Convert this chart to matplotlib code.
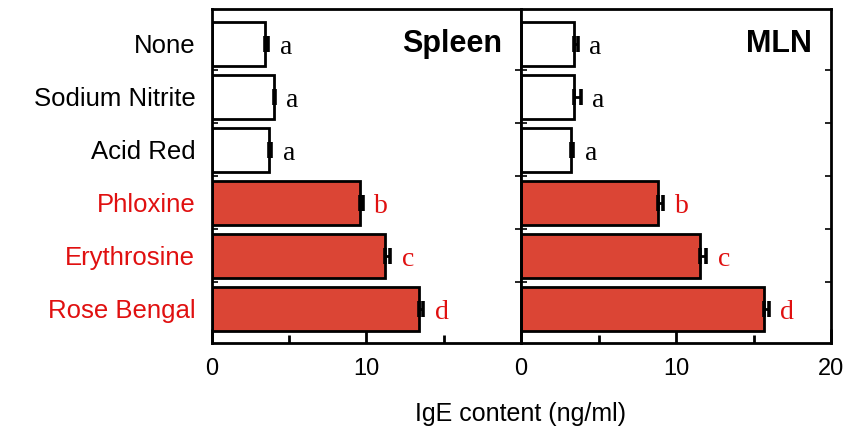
import numpy as np
import matplotlib.pyplot as plt

# data
treatments = ['None', 'Sodium Nitrite', 'Acid Red', 'Phloxine', 'Erythrosine', 'Rose Bengal']
label_colors = ['black', 'black', 'black', '#e01010', '#e01010', '#e01010']
bar_colors = ['white', 'white', 'white', '#db4535', '#db4535', '#db4535']

spleen_mean = [3.4, 4.0, 3.7, 9.55, 11.2, 13.4]
spleen_err = [0.25, 0.05, 0.15, 0.2, 0.33, 0.28]
mln_mean = [3.45, 3.45, 3.2, 8.85, 11.55, 15.65]
mln_err = [0.2, 0.4, 0.17, 0.33, 0.38, 0.32]
letters = ['a', 'a', 'a', 'b', 'c', 'd']

panels = [('Spleen', spleen_mean, spleen_err), ('MLN', mln_mean, mln_err)]

fig = plt.figure(figsize=(8.43, 4.33), dpi=100)
ax_left = fig.add_axes([0.2515, 0.2079, 0.3665, 0.7706])
ax_right = fig.add_axes([0.618, 0.2079, 0.3680, 0.7706])

y = np.arange(len(treatments))

for ax, (name, mean, err) in zip([ax_left, ax_right], panels):
    ax.barh(y, mean, height=0.83, color=bar_colors, edgecolor='black', linewidth=2.0, zorder=2)
    ax.errorbar(mean, y, xerr=[np.zeros(len(mean)), err], fmt='none', ecolor='black',
                elinewidth=2.0, capsize=6, capthick=2.6, zorder=3)
    for i in range(len(mean)):
        ax.text(mean[i] + err[i] + 0.75, y[i] + 0.08, letters[i], fontsize=20,
                family='Liberation Serif', color=label_colors[i], ha='left', va='center')
    ax.text(18.75, 0.0, name, fontsize=22, fontweight='bold', ha='right', va='center',
            family='Liberation Sans')

    ax.set_xlim(0, 20)
    ax.set_ylim(5.65, -0.65)
    ax.set_xticks([5, 15], minor=True)
    ax.tick_params(axis='x', which='major', direction='in', length=10, width=2.0,
                   labelsize=17, pad=11)
    ax.tick_params(axis='x', which='minor', direction='in', length=6, width=2.0)
    ax.set_yticks(y[:-1] + 0.5, minor=True)
    ax.tick_params(axis='y', which='minor', direction='in', length=4, width=1.2,
                   left=True, right=True)
    ax.tick_params(axis='y', which='major', length=0)
    for s in ax.spines.values():
        s.set_linewidth(2.0)

ax_left.set_xticks([0, 10])
ax_left.set_xticklabels(['0', '10'], family='Liberation Sans')
ax_left.set_yticks(y)
ax_left.set_yticklabels(treatments, fontsize=18.5, family='Liberation Sans')
ax_left.tick_params(axis='y', which='major', pad=12)
for lab, c in zip(ax_left.get_yticklabels(), label_colors):
    lab.set_color(c)

ax_right.set_xticks([0, 10, 20])
ax_right.set_xticklabels(['0', '10', '20'], family='Liberation Sans')
ax_right.set_yticks(y)
ax_right.set_yticklabels([])

fig.text(0.617, 0.045, 'IgE content (ng/ml)', fontsize=18, family='Liberation Sans',
         ha='center', va='center')

fig.savefig('out.png', dpi=100)
